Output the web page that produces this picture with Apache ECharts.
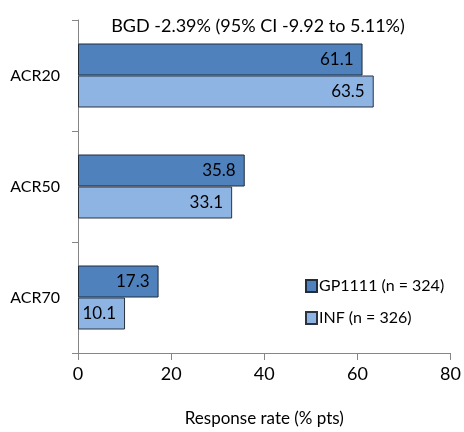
<!DOCTYPE html>
<html><head><meta charset="utf-8">
<script src="https://cdn.jsdelivr.net/npm/echarts@6/dist/echarts.min.js"></script>
<style>html,body{margin:0;padding:0;background:#fff}#c{width:464px;height:432px}</style>
</head><body><div id="c"></div>
<script>
const categories = ['ACR20', 'ACR50', 'ACR70'];
const gp1111 = [61.1, 35.8, 17.3];
const inf = [63.5, 33.1, 10.1];
const seriesNames = ['GP1111 (n = 324)', 'INF (n = 326)'];
const xTicks = [0, 20, 40, 60, 80];
const titleText = 'BGD -2.39% (95% CI -9.92 to 5.11%)';
const xName = 'Response rate (% pts)';

const FONT = 'Lato';
const chart = echarts.init(document.getElementById('c'), null, {renderer: 'canvas'});
const lbl = {show: true, position: 'insideRight', distance: 9, color: '#000', fontFamily: FONT, fontSize: 17, formatter: p => p.value.toFixed(1)};
chart.setOption({
  animation: false,
  title: {text: titleText, left: 253, textAlign: 'center', top: 12, textStyle: {fontFamily: FONT, fontSize: 18, fontWeight: 'normal', color: '#000'}},
  grid: {left: 78, right: 12, top: 20, bottom: 73, containLabel: false},
  legend: {
    orient: 'vertical', left: 300, top: 273, itemWidth: 11, itemHeight: 12, itemGap: 16,
    icon: 'rect', data: seriesNames,
    textStyle: {fontFamily: FONT, fontSize: 16, color: '#000', padding: [0, 0, 0, -3]}
  },
  xAxis: {
    type: 'value', min: 0, max: 80, interval: 20,
    axisLine: {show: true, lineStyle: {color: '#868686'}},
    axisTick: {show: true, length: 7, lineStyle: {color: '#868686'}},
    splitLine: {show: false},
    axisLabel: {fontFamily: FONT, fontSize: 18, color: '#000', margin: 12, formatter: v => xTicks.includes(v) ? String(v) : ''},
    name: xName, nameLocation: 'middle', nameGap: 57,
    nameTextStyle: {fontFamily: FONT, fontSize: 17, color: '#000'}
  },
  yAxis: {
    type: 'category', data: categories, inverse: true,
    axisLine: {show: true, lineStyle: {color: '#868686'}},
    axisTick: {show: true, length: 6, lineStyle: {color: '#868686'}},
    axisLabel: {fontFamily: FONT, fontSize: 16, color: '#000', margin: 18}
  },
  series: [
    {name: seriesNames[0], type: 'bar', data: gp1111, barWidth: 32, barGap: '0%',
     itemStyle: {color: '#4F81BD', borderColor: '#1f2d3d', borderWidth: 1}, label: lbl},
    {name: seriesNames[1], type: 'bar', data: inf, barWidth: 32, barGap: '0%',
     itemStyle: {color: '#8EB4E3', borderColor: '#2a3440', borderWidth: 1}, label: lbl}
  ]
});
</script></body></html>
